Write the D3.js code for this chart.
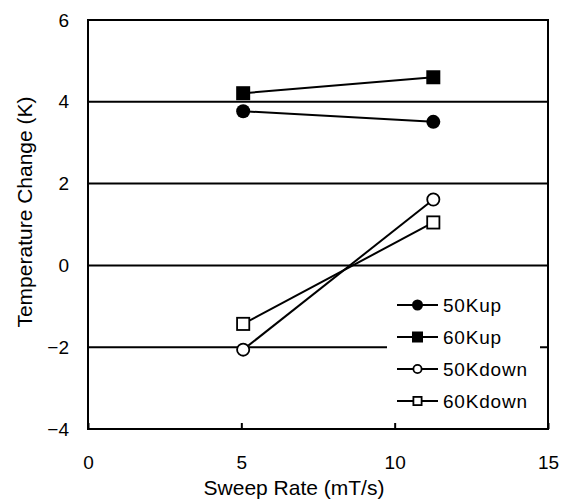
<!DOCTYPE html>
<html><head><meta charset="utf-8">
<script src="https://cdn.jsdelivr.net/npm/d3@7/dist/d3.min.js"></script>
<style>body{margin:0;background:#fff}svg{display:block}text{font-family:"Liberation Sans",Arial,sans-serif;fill:#000}</style>
</head><body><svg id="c" width="562" height="500"></svg>
<script>
const sweepRate = [5.06, 11.26];
const up50 = [3.77, 3.51];
const up60 = [4.21, 4.60];
const down50 = [-2.06, 1.61];
const down60 = [-1.43, 1.05];
const seriesNames = ["50Kup", "60Kup", "50Kdown", "60Kdown"];
const xTicks = [0, 5, 10, 15];
const yTicks = [-4, -2, 0, 2, 4, 6];

const series = [
  {name: seriesNames[0], vals: up50, shape: "circle", fill: true},
  {name: seriesNames[1], vals: up60, shape: "square", fill: true},
  {name: seriesNames[2], vals: down50, shape: "circle", fill: false},
  {name: seriesNames[3], vals: down60, shape: "square", fill: false}
];

const svg = d3.select("#c");
const L = 88, R = 548, T = 20, B = 429;
const x = d3.scaleLinear().domain([0, 15]).range([L, R]);
const y = d3.scaleLinear().domain([-4, 6]).range([B, T]);

// gridlines
svg.append("g").selectAll("line").data(yTicks).join("line")
  .attr("x1", L).attr("x2", R).attr("y1", d => y(d)).attr("y2", d => y(d))
  .attr("stroke", "#000").attr("stroke-width", 2);

// series lines
const line = d3.line().x((d, i) => x(sweepRate[i])).y(d => y(d));
series.forEach(s => {
  svg.append("path").attr("d", line(s.vals)).attr("fill", "none")
    .attr("stroke", "#000").attr("stroke-width", 2);
});

function marker(g, shape, fill, cx, cy, size) {
  if (shape === "circle") {
    g.append("circle").attr("cx", cx).attr("cy", cy).attr("r", fill ? size / 2 : size / 2 - 0.9)
      .attr("fill", fill ? "#000" : "#fff").attr("stroke", "#000").attr("stroke-width", fill ? 0 : 1.8);
  } else {
    const s = fill ? size : size - 1.8;
    g.append("rect").attr("x", cx - s / 2).attr("y", cy - s / 2).attr("width", s).attr("height", s)
      .attr("fill", fill ? "#000" : "#fff").attr("stroke", "#000").attr("stroke-width", fill ? 0 : 1.8);
  }
}
series.forEach(s => {
  const g = svg.append("g");
  s.vals.forEach((v, i) => marker(g, s.shape, s.fill, x(sweepRate[i]), y(v), 14));
});

// legend
const lg = svg.append("g");
lg.append("rect").attr("x", 387).attr("y", 284).attr("width", 153).attr("height", 134).attr("fill", "#fff");
series.forEach((s, i) => {
  const yy = 305 + i * 32;
  lg.append("line").attr("x1", 397).attr("x2", 438).attr("y1", yy).attr("y2", yy)
    .attr("stroke", "#000").attr("stroke-width", 2);
  marker(lg, s.shape, s.fill, 417.5, yy, s.fill ? 11 : 10);
  lg.append("text").attr("x", 443).attr("y", yy).attr("dy", "0.36em")
    .attr("font-size", 19).attr("letter-spacing", 0.8).text(s.name);
});

// frame
svg.append("rect").attr("x", L).attr("y", T).attr("width", R - L).attr("height", B - T)
  .attr("fill", "none").attr("stroke", "#000").attr("stroke-width", 2);

// x axis (inward ticks)
const xa = svg.append("g").attr("transform", `translate(0,${B})`)
  .call(d3.axisBottom(x).tickValues(xTicks).tickSizeInner(-6).tickSizeOuter(0).tickPadding(27).tickFormat(d3.format("d")));
xa.select(".domain").remove();
xa.selectAll("line").attr("stroke-width", 2);
xa.selectAll("text").attr("font-size", 19).attr("font-family", "Liberation Sans, Arial, sans-serif");

// y axis labels
const ya = svg.append("g").attr("transform", `translate(${L},0)`)
  .call(d3.axisLeft(y).tickValues(yTicks).tickSize(0).tickPadding(19).tickFormat(d3.format("d")));
ya.select(".domain").remove();
ya.selectAll("text").attr("font-size", 19).attr("font-family", "Liberation Sans, Arial, sans-serif");

// titles
svg.append("text").attr("x", 294).attr("y", 495).attr("text-anchor", "middle")
  .attr("font-size", 21).text("Sweep Rate (mT/s)");
svg.append("text").attr("transform", "translate(24,212) rotate(-90)").attr("dy", "0.36em")
  .attr("text-anchor", "middle").attr("font-size", 21).text("Temperature Change (K)");
</script></body></html>
